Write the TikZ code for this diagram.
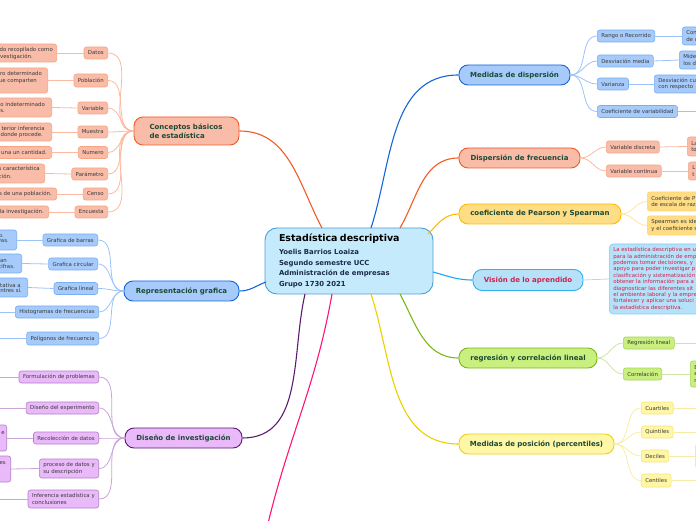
\documentclass[tikz,border=0pt]{standalone}
\usepackage{fontspec}
\setmainfont{DejaVu Sans}
\definecolor{orL}{HTML}{F15A24}
\definecolor{orF}{HTML}{F9BCA8}
\definecolor{orLB}{HTML}{F7A584}
\definecolor{orLL}{HTML}{FBB9A0}
\definecolor{blL}{HTML}{1565D8}
\definecolor{blF}{HTML}{A6CBFB}
\definecolor{blLB}{HTML}{78AEF2}
\definecolor{blLL}{HTML}{9CC3F7}
\definecolor{puL}{HTML}{5E1A6F}
\definecolor{puF}{HTML}{EAB9FA}
\definecolor{puLB}{HTML}{B27FC9}
\definecolor{puLL}{HTML}{C9A5D8}
\definecolor{pkL}{HTML}{FF1474}
\definecolor{yoL}{HTML}{FFBB00}
\definecolor{yoF}{HTML}{FFDD85}
\definecolor{yoLB}{HTML}{FFD36A}
\definecolor{yoLL}{HTML}{FFE2A6}
\definecolor{cyL}{HTML}{1BA6F2}
\definecolor{cyF}{HTML}{B5E2F9}
\definecolor{cyB}{HTML}{35AEEE}
\definecolor{cyLB}{HTML}{7DCBF2}
\definecolor{cyLL}{HTML}{A8DDF6}
\definecolor{visT}{HTML}{D21F4E}
\definecolor{grL}{HTML}{7DB61A}
\definecolor{grF}{HTML}{C9EF7E}
\definecolor{grLB}{HTML}{A6D55A}
\definecolor{grLL}{HTML}{CBE6A6}
\definecolor{ywL}{HTML}{E9D000}
\definecolor{ywF}{HTML}{FFF6A6}
\definecolor{ywB}{HTML}{E8D11A}
\definecolor{ywLB}{HTML}{F5E37E}
\definecolor{ywLL}{HTML}{F8EDA6}
\definecolor{ctF}{HTML}{C5EAFB}
\definecolor{ctB}{HTML}{4C9FDB}
\definecolor{mainT}{HTML}{1B4A35}
\definecolor{leafT}{HTML}{3A3A3A}
\definecolor{subT}{HTML}{1B2B4B}
\newcommand{\mfnt}{\fontsize{7}{9}\selectfont\bfseries}
\newcommand{\lfnt}{\fontsize{5.4}{6.4}\selectfont}
\tikzset{
  mainbox/.style={rounded corners=9pt, line width=0.9pt, minimum height=20pt, inner sep=0pt, font=\mfnt, text=mainT},
  leafbox/.style={rounded corners=2.5pt, line width=0.6pt, minimum height=12pt, inner xsep=4pt, inner ysep=0pt, font=\lfnt, text=leafT},
  ltxt/.style={inner sep=0pt, font=\lfnt, text=leafT},
  orM/.style={mainbox, fill=orF, draw=orL},
  blM/.style={mainbox, fill=blF, draw=blL},
  puM/.style={mainbox, fill=puF, draw=puL},
  yoM/.style={mainbox, fill=yoF, draw=yoL},
  cyM/.style={mainbox, fill=cyF, draw=cyB, text=visT},
  grM/.style={mainbox, fill=grF, draw=grL},
  ywM/.style={mainbox, fill=ywF, draw=ywB},
  orLf/.style={leafbox, fill=orF, draw=orLB},
  blLf/.style={leafbox, fill=blF, draw=blLB},
  puLf/.style={leafbox, fill=puF, draw=puLB},
  yoLf/.style={leafbox, fill=yoF, draw=yoLB},
  cyLf/.style={leafbox, fill=cyF, draw=cyLB, text=visT},
  grLf/.style={leafbox, fill=grF, draw=grLB},
  ywLf/.style={leafbox, fill=ywF, draw=ywLB},
  mconn/.style={line width=1.1pt},
  lconn/.style={line width=0.8pt},
}
\begin{document}
\begin{tikzpicture}[x=1pt,y=1pt]
\useasboundingbox (0,0) rectangle (696,520);
\clip (0,0) rectangle (696,520);

% ---------- central ----------
\node[draw=ctB, fill=ctF, line width=0.9pt, rounded corners=12pt, minimum width=168, minimum height=66,
      text width=140, align=left, inner sep=0pt, text=subT, font=\fontsize{6.9}{10.7}\selectfont\bfseries] (ctr) at (349,259)
  {{\fontsize{9.5}{11}\selectfont\color{black}Estadística descriptiva}\\[2pt]
   Yoelis Barrios Loaiza\\ Segundo semestre UCC\\ Administración de empresas\\ Grupo 1730 2021};

% ---------- main topics ----------
\node[orM, minimum width=105, minimum height=28, text width=74, align=left] (conc) at (186.5,389) {Conceptos básicos\\de estadística};
\node[blM, minimum width=115] (rep) at (181.5,229) {Representación grafica};
\node[puM, minimum width=117] (dis) at (183.5,82) {Diseño de investigación};
\node[blM, minimum width=111] (med) at (514.5,445) {Medidas de dispersión};
\node[orM, minimum width=121] (dfr) at (519.5,362) {Dispersión de frecuencia};
\node[yoM, minimum width=162] (pea) at (540,306) {coeficiente de Pearson y Spearman};
\node[cyM, minimum width=110, minimum height=21] (vis) at (528,240) {Visión de lo aprendido};
\node[grM, minimum width=138] (reg) at (528,162) {regresión y correlación lineal};
\node[ywM, minimum width=155] (pos) at (536.5,76) {Medidas de posición (percentiles)};

% ---------- central connectors ----------
\coordinate (cConc) at (322,292);
\coordinate (cRep) at (266,238);
\coordinate (cDis) at (305,226);
\coordinate (cPk) at (332,226);
\coordinate (pkEnd) at (266,-12);
\coordinate (cMed) at (371,292);
\coordinate (cDfr) at (400,292);
\coordinate (cPea) at (428,286);
\coordinate (cVis) at (433,248);
\coordinate (cReg) at (400,226);
\coordinate (cPos) at (371,226);
\draw[mconn, orL] (cConc) to[out=118,in=0] (conc.east);
\draw[mconn, blL] (cRep) to[out=200,in=0] (rep.east);
\draw[mconn, puL] (cDis) to[out=-103,in=0] (dis.east);
\draw[mconn, pkL] (cPk) to[out=-100,in=77] (pkEnd);
\draw[mconn, blL] (cMed) to[out=72,in=180] (med.west);
\draw[mconn, orL] (cDfr) to[out=60,in=180] (dfr.west);
\draw[mconn, yoL] (cPea) to[out=45,in=180] (pea.west);
\draw[mconn, cyL] (cVis) to[out=-15,in=180] (vis.west);
\draw[mconn, grL] (cReg) to[out=-62,in=180] (reg.west);
\draw[mconn, ywL] (cPos) to[out=-72,in=180] (pos.west);

% ---------- Conceptos basicos leaves ----------
\node[orLf, anchor=east] (datos) at (108,467) {Datos};
\node[orLf, anchor=east, minimum height=13] (pobl) at (108,439.5) {Población};
\node[orLf, anchor=east] (vari) at (108,412) {Variable};
\node[orLf, anchor=east] (mues) at (108,388) {Muestra};
\node[orLf, anchor=east] (nume) at (108,367.5) {Numero};
\node[orLf, anchor=east] (para) at (108,346) {Parámetro};
\node[orLf, anchor=east] (cens) at (108,326) {Censo};
\node[orLf, anchor=east] (encu) at (108,308) {Encuesta};
\foreach \n in {datos,pobl,vari,mues,nume,para,cens,encu}
  \draw[lconn, orLL] (conc.west) to[out=180,in=0] (\n.east);

\node[orLf, anchor=east, minimum width=90, minimum height=18] (ld1) at (57,467) {};
\node[orLf, anchor=east, minimum width=90, minimum height=25] (ld2) at (48,439.5) {};
\node[orLf, anchor=east, minimum width=90, minimum height=19] (ld3) at (52,412.5) {};
\node[orLf, anchor=east, minimum width=90, minimum height=18] (ld4) at (52,388) {};
\node[orLf, anchor=east, minimum width=90, minimum height=12] (ld5) at (52,367.5) {};
\node[orLf, anchor=east, minimum width=90, minimum height=19] (ld6) at (45,346.5) {};
\node[orLf, anchor=east, minimum width=90, minimum height=12] (ld7) at (57,326) {};
\node[orLf, anchor=east, minimum width=90, minimum height=12] (ld8) at (49,308) {};
\draw[lconn, orLL] (datos.west) -- (ld1.east);
\draw[lconn, orLL] (pobl.west) -- (ld2.east);
\draw[lconn, orLL] (vari.west) -- (ld3.east);
\draw[lconn, orLL] (mues.west) -- (ld4.east);
\draw[lconn, orLL] (nume.west) -- (ld5.east);
\draw[lconn, orLL] (para.west) -- (ld6.east);
\draw[lconn, orLL] (cens.west) -- (ld7.east);
\draw[lconn, orLL] (encu.west) -- (ld8.east);
\node[ltxt, anchor=base east] (t1a) at (53,468) {do recopilado como};
\node[ltxt, anchor=base east] (t1b) at (33,461) {vestigación.};
\node[ltxt, anchor=base east] (t2a) at (42,444) {ro determinado};
\node[ltxt, anchor=base east] (t2b) at (37,437) {ue comparten};
\node[ltxt, anchor=base east] (t3a) at (45,413) {o indeterminado};
\node[ltxt, anchor=base east] (t3b) at (5,407) {s.};
\node[ltxt, anchor=base east] (t4a) at (45,389) {terior inferencia};
\node[ltxt, anchor=base east] (t4b) at (43,383) {donde procede.};
\node[ltxt, anchor=base east] (t5a) at (47,365.5) {una un cantidad.};
\node[ltxt, anchor=base east] (t6a) at (40,349) {s característica};
\node[ltxt, anchor=base east] (t6b) at (12,341.5) {ción.};
\node[ltxt, anchor=base east] (t7a) at (52,324) {s de una población.};
\node[ltxt, anchor=base east] (t8a) at (44,306) {la investigación.};

% ---------- Representacion grafica leaves ----------
\node[blLf, anchor=east] (gb) at (98,280) {Grafica de barras};
\node[blLf, anchor=east] (gc) at (98,256) {Grafica circular};
\node[blLf, anchor=east] (gl) at (98,231.5) {Grafica lineal};
\node[blLf, anchor=east] (hf) at (99,208) {Histogramas de frecuencias};
\node[blLf, anchor=east, minimum height=13] (pf) at (99,181.5) {Polígonos de frecuencia};
\foreach \n in {gb,gc,gl,hf,pf}
  \draw[lconn, blLL] (rep.west) to[out=180,in=0] (\n.east);
\node[blLf, anchor=east, minimum width=60, minimum height=20] (lg1) at (17,280) {};
\node[blLf, anchor=east, minimum width=60, minimum height=19] (lg2) at (22,256.5) {};
\node[blLf, anchor=east, minimum width=60, minimum height=19] (lg3) at (28,232.5) {};
\coordinate (hfEnd) at (0,208);
\coordinate (pfEnd) at (0,181.5);
\draw[lconn, blLL] (gb.west) -- (lg1.east);
\draw[lconn, blLL] (gc.west) -- (lg2.east);
\draw[lconn, blLL] (gl.west) -- (lg3.east);
\draw[lconn, blLL] (hf.west) -- (hfEnd);
\draw[lconn, blLL] (pf.west) -- (pfEnd);
\node[ltxt, anchor=base east] (g1a) at (4,282) {o.};
\node[ltxt, anchor=base east] (g1b) at (9,277) {vas.};
\node[ltxt, anchor=base east] (g2a) at (7,257) {an};
\node[ltxt, anchor=base east] (g2b) at (15,251) {cifras.};
\node[ltxt, anchor=base east] (g3a) at (21,233) {tativa a};
\node[ltxt, anchor=base east] (g3b) at (22,227.5) {ntres sí.};

% ---------- Diseno de investigacion leaves ----------
\node[puLf, anchor=east] (fp) at (99,143) {Formulación de problemas};
\node[puLf, anchor=east] (dex) at (99,112) {Diseño del experimento};
\node[puLf, anchor=east] (rd) at (99,82) {Recolección de datos};
\node[puLf, anchor=east, minimum height=19, align=left] (pd) at (99,51.5) {proceso de datos y\\su descripción};
\node[puLf, anchor=east, minimum height=18, align=left] (ie) at (99,21) {Inferencia estadística y\\conclusiones};
\foreach \n in {fp,dex,rd,pd,ie}
  \draw[lconn, puLL] (dis.west) to[out=180,in=0] (\n.east);
\coordinate (fpEnd) at (0,143);
\coordinate (dexEnd) at (0,112);
\coordinate (ieEnd) at (0,21);
\node[puLf, anchor=east, minimum width=60, minimum height=26] (lr1) at (7,82) {};
\node[puLf, anchor=east, minimum width=60, minimum height=26] (lr2) at (11,51) {};
\draw[lconn, puLL] (fp.west) -- (fpEnd);
\draw[lconn, puLL] (dex.west) -- (dexEnd);
\draw[lconn, puLL] (rd.west) -- (lr1.east);
\draw[lconn, puLL] (pd.west) -- (lr2.east);
\draw[lconn, puLL] (ie.west) -- (ieEnd);
\node[ltxt, anchor=base east] (r1a) at (5,86) {e};
\node[ltxt, anchor=base east] (r2a) at (6,56) {es};

% ---------- Medidas de dispersion leaves ----------
\node[blLf, anchor=west] (rr) at (597,484) {Rango o Recorrido};
\node[blLf, anchor=west] (dm) at (597,459) {Desviación media};
\node[blLf, anchor=west] (va) at (597,436) {Varianza};
\node[blLf, anchor=west] (cv) at (597,408.5) {Coeficiente de variabilidad};
\foreach \n in {rr,dm,va,cv}
  \draw[lconn, blLL] (med.east) to[out=0,in=180] (\n.west);
\node[blLf, anchor=west, text width=70, align=left, minimum height=18] (rr2) at (682,484) {Con\\de u};
\node[blLf, anchor=west, text width=70, align=left, minimum height=18] (dm2) at (679,460) {Mide\\los d};
\node[blLf, anchor=west, text width=70, align=left, minimum height=18] (va2) at (654,436) {Desviación cu\\con respecto};
\coordinate (cvEnd) at (696,408.5);
\draw[lconn, blLL] (rr.east) -- (rr2.west);
\draw[lconn, blLL] (dm.east) -- (dm2.west);
\draw[lconn, blLL] (va.east) -- (va2.west);
\draw[lconn, blLL] (cv.east) -- (cvEnd);

% ---------- Dispersion de frecuencia leaves ----------
\node[orLf, anchor=west] (vd) at (606,373) {Variable discreta};
\node[orLf, anchor=west] (vc) at (606,349) {Variable continua};
\foreach \n in {vd,vc}
  \draw[lconn, orLL] (dfr.east) to[out=0,in=180] (\n.west);
\node[orLf, anchor=west, text width=40, align=left, minimum height=19] (vd2) at (687,373.5) {La\\to};
\node[orLf, anchor=west, text width=40, align=left, minimum height=18] (vc2) at (688,349) {L\\t};
\draw[lconn, orLL] (vd.east) -- (vd2.west);
\draw[lconn, orLL] (vc.east) -- (vc2.west);

% ---------- Pearson leaves ----------
\node[yoLf, anchor=west, text width=90, align=left, minimum height=19] (p1) at (647,318.5) {Coeficiente de P\\de escala de raz};
\node[yoLf, anchor=west, text width=90, align=left, minimum height=19] (p2) at (647,294.5) {Spearman es ide\\y el coeficiente s};
\foreach \n in {p1,p2}
  \draw[lconn, yoLL] (pea.east) to[out=0,in=180] (\n.west);

% ---------- Vision leaf ----------
\node[cyLf, anchor=west, text width=130, align=left, minimum height=70, rounded corners=4pt] (visl) at (609,241)
 {La estadística descriptiva en u\\para la administración de emp\\podemos tomar decisiones, y\\apoyo para poder investigar p\\clasificación y sistematización\\obtener la información para a\\diagnosticar las diferentes sit\\el ambiente laboral y la empre\\fortalecer y aplicar una soluci\\la estadística descriptiva.};
\draw[lconn, cyLL] (vis.east) -- (visl.west);

% ---------- Regresion leaves ----------
\node[grLf, anchor=west] (rl) at (623,177) {Regresión lineal};
\node[grLf, anchor=west] (co) at (623,146) {Correlación};
\foreach \n in {rl,co}
  \draw[lconn, grLL] (reg.east) to[out=0,in=180] (\n.west);
\coordinate (rlEnd) at (696,177);
\node[grLf, anchor=west, text width=30, align=left, minimum height=26, inner ysep=0pt] (co2) at (690,146) {E\\e\\r};
\draw[lconn, grLL] (rl.east) -- (rlEnd);
\draw[lconn, grLL] (co.east) -- (co2.west);

% ---------- Medidas de posicion leaves ----------
\node[ywLf, anchor=west] (cu) at (641,112) {Cuartiles};
\node[ywLf, anchor=west] (qu) at (641,88) {Quintiles};
\node[ywLf, anchor=west] (dc) at (641,64) {Deciles};
\node[ywLf, anchor=west, minimum height=13] (ce) at (641,39.5) {Centiles};
\foreach \n in {cu,qu,dc,ce}
  \draw[lconn, ywLL] (pos.east) to[out=0,in=180] (\n.west);
\coordinate (cuEnd) at (696,112);
\coordinate (quEnd) at (696,88);
\coordinate (ceEnd) at (696,39.5);
\node[ywLf, anchor=west, minimum width=30, minimum height=24] (dc2) at (695,64) {};
\draw[lconn, ywLL] (cu.east) -- (cuEnd);
\draw[lconn, ywLL] (qu.east) -- (quEnd);
\draw[lconn, ywLL] (dc.east) -- (dc2.west);
\draw[lconn, ywLL] (ce.east) -- (ceEnd);
\end{tikzpicture}
\end{document}
